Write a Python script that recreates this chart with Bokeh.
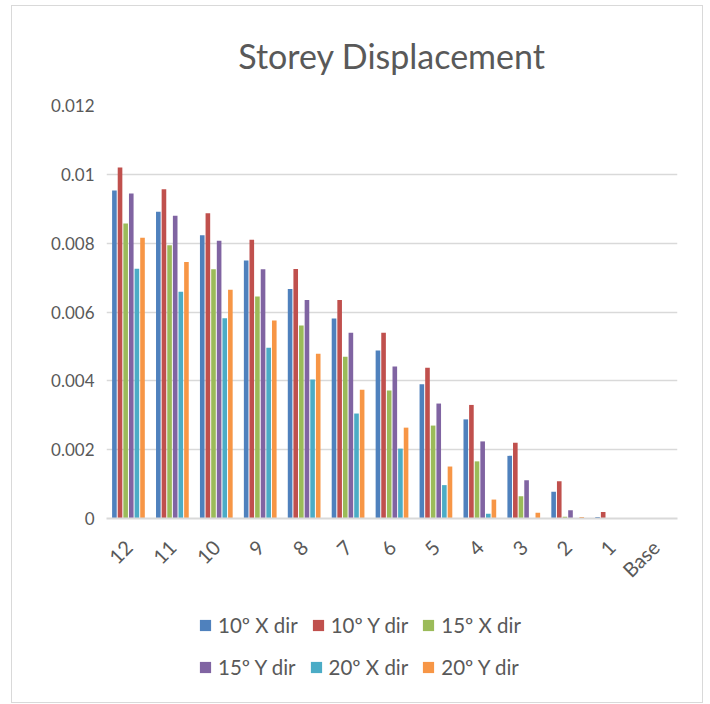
from bokeh.plotting import figure
from bokeh.models import (Range1d, FactorRange, FixedTicker, NumeralTickFormatter,
                          Legend, LegendItem, ColumnDataSource, Title)
from bokeh.layouts import column
from bokeh.transform import dodge
from bokeh.embed import file_html
from bokeh.resources import INLINE
import math

storeys = ["12", "11", "10", "9", "8", "7", "6", "5", "4", "3", "2", "1", "Base"]
series_names = ["10º X dir", "10º Y dir", "15º X dir", "15º Y dir", "20º X dir", "20º Y dir"]
colors = ["#4F81BD", "#C0504D", "#9BBB59", "#8064A2", "#4BACC6", "#F79646"]

x10 = [0.00953, 0.00891, 0.00823, 0.00750, 0.00667, 0.00581, 0.00488, 0.00390, 0.00288, 0.00182, 0.00078, 0.00004, 0.0]
y10 = [0.01020, 0.00957, 0.00887, 0.00810, 0.00725, 0.00635, 0.00540, 0.00438, 0.00330, 0.00220, 0.00108, 0.00019, 0.0]
x15 = [0.00857, 0.00794, 0.00724, 0.00645, 0.00561, 0.00470, 0.00372, 0.00270, 0.00166, 0.00065, 0.00005, 0.0, 0.0]
y15 = [0.00944, 0.00880, 0.00807, 0.00724, 0.00635, 0.00540, 0.00442, 0.00334, 0.00224, 0.00111, 0.00024, 0.0, 0.0]
x20 = [0.00726, 0.00659, 0.00582, 0.00496, 0.00404, 0.00305, 0.00203, 0.00097, 0.00014, 0.00001, 0.0, 0.0, 0.0]
y20 = [0.00816, 0.00745, 0.00665, 0.00575, 0.00479, 0.00374, 0.00264, 0.00151, 0.00055, 0.00017, 0.00004, 0.0, 0.0]
series_values = [x10, y10, x15, y15, x20, y20]
y_ticks = [0, 0.002, 0.004, 0.006, 0.008, 0.010, 0.012]

FONT = "Lato"
GRAY = "#595959"
BORDER = "1px solid #d9d9d9"

src = ColumnDataSource(dict(storey=storeys, s0=x10, s1=y10, s2=x15, s3=y15, s4=x20, s5=y20))

# ---- main chart ----
p = figure(width=692, height=590, output_backend="svg", toolbar_location=None,
           x_range=FactorRange(*storeys, range_padding=0),
           y_range=Range1d(0, 0.012),
           min_border_left=94, min_border_right=27, min_border_top=99, min_border_bottom=78)
p.styles = {"border-left": BORDER, "border-right": BORDER, "border-top": BORDER,
            "box-sizing": "border-box"}

pitch = 0.128
for i, col in enumerate(colors):
    off = (i - 2.5) * pitch
    p.vbar(x=dodge("storey", off, range=p.x_range), top="s%d" % i, width=0.105,
           source=src, fill_color=col, line_color=None)

p.title = Title(text="Storey Displacement", align="center", text_font=FONT,
                text_font_size="34px", text_color=GRAY, text_font_style="normal",
                standoff=56, vertical_align="top")

p.outline_line_color = None
p.background_fill_color = "white"
p.border_fill_color = "white"

p.xgrid.grid_line_color = None
p.ygrid.grid_line_color = "#d9d9d9"
p.ygrid.grid_line_width = 1.5

p.yaxis.ticker = FixedTicker(ticks=y_ticks)
p.yaxis.formatter = NumeralTickFormatter(format="0.[000]")
p.yaxis.axis_line_color = None
p.yaxis.major_tick_line_color = None
p.yaxis.minor_tick_line_color = None
p.yaxis.major_label_text_font = FONT
p.yaxis.major_label_text_font_size = "17px"
p.yaxis.major_label_text_color = GRAY
p.yaxis.major_label_standoff = 6

p.xaxis.axis_line_color = "#d9d9d9"
p.xaxis.axis_line_width = 2
p.xaxis.major_tick_line_color = None
p.xaxis.minor_tick_line_color = None
p.xaxis.major_label_orientation = math.pi / 4
p.xaxis.major_label_text_font = FONT
p.xaxis.major_label_text_font_size = "20px"
p.xaxis.major_label_text_color = GRAY
p.xaxis.major_label_standoff = 19

# ---- legend strip ----
lf = figure(width=692, height=108, output_backend="svg", toolbar_location=None,
            x_range=Range1d(0, 1), y_range=Range1d(0, 1),
            x_axis_location=None, y_axis_location=None,
            min_border=0, min_border_left=0, min_border_right=0,
            min_border_top=0, min_border_bottom=0)
lf.styles = {"border-left": BORDER, "border-right": BORDER, "border-bottom": BORDER,
             "box-sizing": "border-box"}
lf.grid.visible = False
lf.outline_line_color = None
lf.background_fill_color = "white"
lf.border_fill_color = "white"

# legend swatches (zero-height bars outside the visible range, only used by the legend)
leg_renderers = [lf.vbar(x=[-5], top=[0], width=0.1, fill_color=c, line_color=None) for c in colors]

def make_legend(idx, loc):
    return Legend(items=[LegendItem(label=series_names[i], renderers=[leg_renderers[i]]) for i in idx],
                  orientation="horizontal", location=loc,
                  glyph_width=14, glyph_height=14, label_standoff=6, spacing=13,
                  label_text_font=FONT, label_text_font_size="20.5px", label_text_color=GRAY,
                  background_fill_alpha=0, border_line_color=None, padding=0, margin=0,
                  label_height=20)

lf.add_layout(make_legend([0, 1, 2], (92, 66)), "center")
lf.add_layout(make_legend([3, 4, 5], (92, 24)), "center")

layout = column(p, lf, spacing=0)
layout.styles = {"margin-left": "11px", "margin-top": "5px"}

open("out.html", "w").write(file_html(layout, INLINE))
